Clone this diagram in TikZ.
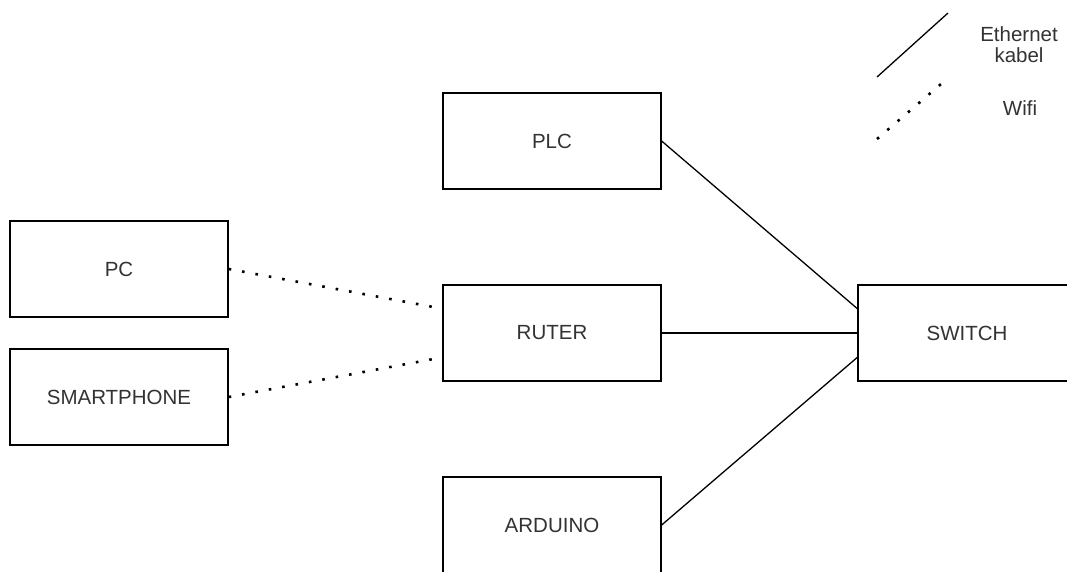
\documentclass[tikz,border=0pt]{standalone}
\usepackage{fontspec}
\setmainfont{Liberation Sans}
\usetikzlibrary{calc}
\definecolor{txt}{HTML}{333333}
\tikzset{
  x=1pt, y=-1pt,
  box/.style={draw=black, line width=1.3pt, fill=white, minimum width=218pt, minimum height=96pt, inner sep=0pt, text=txt, font=\fontsize{20.5}{24}\selectfont},
  eth/.style={draw=black, line width=1.3pt},
  wifi/.style={draw=black, line width=2.6pt, dash pattern=on 2.6pt off 11pt},
  lbl/.style={text=txt, font=\fontsize{20.5}{21}\selectfont, align=center, inner sep=0pt}
}
\begin{document}
\begin{tikzpicture}
\useasboundingbox (0,0) rectangle (1067,571);
\clip (0,0) rectangle (1067,571);
\node[box] (pc) at (119,269) {PC};
\node[box] (phone) at (119,397) {SMARTPHONE};
\node[box] (plc) at (552,141) {PLC};
\node[box] (ruter) at (552,333) {RUTER};
\node[box] (arduino) at (552,525) {ARDUINO};
\node[box] (switch) at (967,333) {SWITCH};

\coordinate (rw1) at ($(ruter.north west)!0.25!(ruter.south west)$);
\coordinate (rw3) at ($(ruter.north west)!0.75!(ruter.south west)$);
\coordinate (sw1) at ($(switch.north west)!0.25!(switch.south west)$);
\coordinate (sw3) at ($(switch.north west)!0.75!(switch.south west)$);

\draw[wifi] (pc.east) -- (rw1);
\draw[wifi] (phone.east) -- (rw3);
\draw[eth] (plc.east) -- (sw1);
\draw[eth] (ruter.east) -- (switch.west);
\draw[eth] (arduino.east) -- (sw3);

% legend
\coordinate (e1) at (877,77);
\coordinate (e2) at (948,13);
\coordinate (w1) at (877,139);
\coordinate (w2) at (948,78);
\draw[eth] (e1) -- (e2);
\draw[wifi] (w1) -- (w2);
\node[lbl] (ethl) at (1019,45) {Ethernet\\kabel};
\node[lbl] (wifil) at (1020,108) {Wifi};
\end{tikzpicture}
\end{document}
